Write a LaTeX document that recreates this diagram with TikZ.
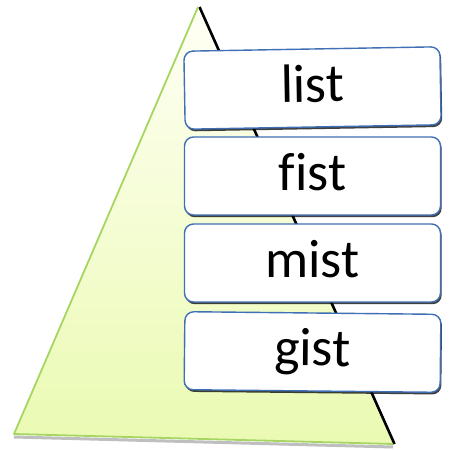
\documentclass[tikz,border=0pt]{standalone}
\usepackage{fontspec}
\setmainfont[Ligatures=CommonOff]{Carlito}
\usetikzlibrary{shadows}
\definecolor{edgegreen}{HTML}{A6D562}
\definecolor{filltop}{HTML}{FFFFF5}
\definecolor{fillbot}{HTML}{EAFAB2}
\definecolor{boxblue}{HTML}{3F6FB5}
\tikzset{
  wordbox/.style={draw=boxblue, line width=1.4pt, fill=white, rounded corners=9pt,
    minimum width=256pt, minimum height=78pt, inner sep=0pt,
    text height=36pt, text depth=8pt, font=\fontsize{54}{60}\selectfont,
    drop shadow={shadow xshift=1.2pt, shadow yshift=-2.2pt, opacity=0.75, fill=black}},
}
\begin{document}
\begin{tikzpicture}[x=1pt,y=-1pt]
\useasboundingbox (0,0) rectangle (448,450);
\coordinate (A) at (198,7);
\coordinate (B) at (14,434);
\coordinate (C) at (393,444);
% shadow of bottom edge
\draw[black!25, line width=3pt] ([yshift=-3pt]B) -- ([yshift=-3pt]C);
\shade[top color=filltop, bottom color=fillbot] (A) -- (B) -- (C) -- cycle;
\draw[black, line width=2.6pt] ([xshift=1.5pt]A) -- ([xshift=1.5pt]C);
\draw[edgegreen, line width=1.8pt, line join=round] (A) -- (B) -- (C);
\node[wordbox, rotate=1] (b1) at (312.5,88) {list};
\node[wordbox] (b2) at (312.5,176) {fist};
\node[wordbox] (b3) at (312.5,263) {mist};
\node[wordbox, rotate=-0.6] (b4) at (312.5,352) {gist};
\end{tikzpicture}
\end{document}
